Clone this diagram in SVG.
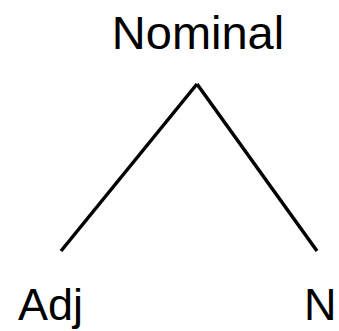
<svg xmlns="http://www.w3.org/2000/svg" width="339" height="331" viewBox="0 0 339 331">
<style>
text{font-family:"Liberation Sans",Arial,sans-serif;fill:#000}
.big{font-size:47px}
.small{font-size:45px}
.e{stroke:#000;stroke-width:3.5;fill:none}
</style>
<rect width="339" height="331" fill="#fff"/>
<g id="connectors">
<line class="e" x1="197" y1="84" x2="61" y2="251"/>
<line class="e" x1="197" y1="84" x2="317" y2="251"/>
</g>
<g id="nominal"><text class="big" x="198" y="49" text-anchor="middle">Nominal</text></g>
<g id="adj"><text class="small" x="18" y="320">Adj</text></g>
<g id="n"><text class="small" x="304" y="320">N</text></g>
</svg>
